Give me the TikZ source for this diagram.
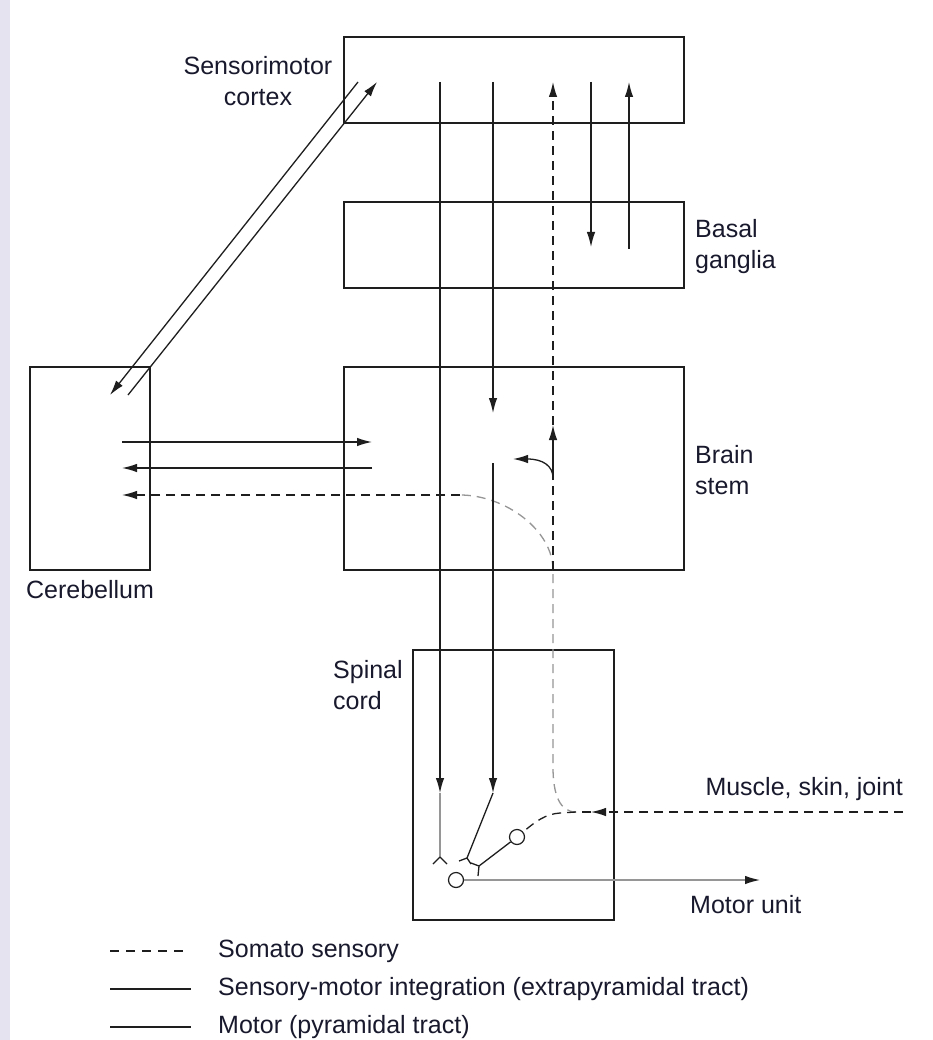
\documentclass[tikz,border=0pt]{standalone}
\usepackage{fontspec}
\setmainfont{Liberation Sans}
\usetikzlibrary{arrows.meta}
\definecolor{lc}{RGB}{30,30,30}
\definecolor{gl}{RGB}{150,150,150}
\definecolor{txt}{RGB}{25,25,45}
\definecolor{band}{RGB}{229,227,240}
\begin{document}
\begin{tikzpicture}[x=1pt,y=-1pt,
  box/.style={draw=lc, line width=1.4pt, inner sep=0pt, outer sep=0pt, anchor=north west},
  lbl/.style={font=\fontsize{25}{31}\selectfont, inner sep=0pt, text=txt},
  wire/.style={draw=lc, line width=1.3pt},
  tip/.style={-{Latex[length=15pt,width=8.5pt,color=lc]}},
  arr/.style={wire, tip},
  dsh/.style={dash pattern=on 9pt off 6pt},
  grey/.style={draw=gl},
  cell/.style={circle, draw=lc, line width=1.2pt, fill=white, minimum size=15pt, inner sep=0pt}
]
\useasboundingbox (0,0) rectangle (932,1040);
\fill[white] (0,0) rectangle (932,1040);
\fill[band] (0,0) rectangle (10,1040);

% boxes
\node[box, minimum width=340pt, minimum height=86pt] (smc) at (344,37) {};
\node[box, minimum width=340pt, minimum height=86pt] (bg) at (344,202) {};
\node[box, minimum width=340pt, minimum height=203pt] (bs) at (344,367) {};
\node[box, minimum width=120pt, minimum height=203pt] (cb) at (30,367) {};
\node[box, minimum width=201pt, minimum height=270pt] (sc) at (413,650) {};

% labels
\node[lbl, align=center] (lsmc) at (258,81) {Sensorimotor\\cortex};
\node[lbl, align=left, anchor=west] (lbg) at (695,247) {Basal\\ganglia};
\node[lbl, align=left, anchor=west] (lbs) at (695,470) {Brain\\stem};
\node[lbl] (lcb) at (90,590) {Cerebellum};
\node[lbl, align=left, anchor=west] (lsc) at (333,685) {Spinal\\cord};
\node[lbl, anchor=east] (lmsj) at (903,789) {Muscle, skin, joint};
\node[lbl, anchor=west] (lmu) at (690,905) {Motor unit};

% coordinates
\coordinate (a1t) at (440,82);  \coordinate (a1b) at (440,793); \coordinate (a1e) at (440,857);
\coordinate (a2t) at (493,82);  \coordinate (a2m) at (493,413);
\coordinate (a2r) at (493,463); \coordinate (a2b) at (493,793); \coordinate (e2) at (467,858);
\coordinate (dTop) at (553,82); \coordinate (dMid) at (553,425); \coordinate (dBr) at (553,478);
\coordinate (dBot) at (553,570); \coordinate (dLow) at (553,767);
\coordinate (junc) at (576,812); \coordinate (inTip) at (591,812); \coordinate (inStart) at (903,812);
\coordinate (curTip) at (513,459);
\coordinate (b1t) at (591,82); \coordinate (b1b) at (591,247);
\coordinate (b2b) at (629,249); \coordinate (b2t) at (629,82);
\coordinate (d1s) at (358,82); \coordinate (d1e) at (110,395);
\coordinate (d2s) at (128,395); \coordinate (d2e) at (377,82);
\coordinate (h1s) at (122,442); \coordinate (h1e) at (372,442);
\coordinate (h2s) at (372,468); \coordinate (h2e) at (122,468);
\coordinate (h3s) at (460,495); \coordinate (h3e) at (122,495);
\coordinate (t3) at (479,866);
\coordinate (mTip) at (760,880);

% neurons
\node[cell] (n1) at (517,837) {};
\node[cell] (n2) at (456,880) {};

% cortex - cerebellum
\draw[arr] (d1s) -- (d1e);
\draw[arr] (d2s) -- (d2e);
% cerebellum - brain stem
\draw[arr] (h1s) -- (h1e);
\draw[arr] (h2s) -- (h2e);
\draw[arr, dsh] (h3s) -- (h3e);
\draw[wire, grey, dsh] (dBot) .. controls (553,530) and (505,495) .. (h3s);

% basal ganglia loop
\draw[arr] (b1t) -- (b1b);
\draw[arr] (b2b) -- (b2t);

% pyramidal / extrapyramidal tracts
\draw[arr] (a1t) -- (a1b);
\draw[wire, grey] (a1b) -- (a1e);
\draw[wire] (a1e) -- ++(-7,7) (a1e) -- ++(7,7);
\draw[arr] (a2t) -- (a2m);
\draw[arr] (a2r) -- (a2b);
\draw[wire] (a2b) -- (e2);
\draw[wire] (e2) -- ++(-8,3) (e2) -- ++(4,6);
\draw[wire] (n1) -- (t3);
\draw[wire] (t3) -- ++(-8,-3) (t3) -- ++(-1,10);
\draw[wire, grey, tip] (n2) -- (mTip);

% somatosensory path
\draw[arr, dsh] (inStart) -- (inTip);
\draw[wire, dsh] (inTip) -- (junc);
\draw[wire, grey, dsh] (junc) .. controls (560,812) and (553,795) .. (dLow) -- (dBot);
\draw[wire, dsh] (junc) -- (560,813) .. controls (545,814) and (535,822) .. (n1);
\draw[wire, dsh] (dBot) -- (dBr);
\draw[arr] (dBr) -- (dMid);
\draw[arr, dsh] (dMid) -- (dTop);
\draw[arr] (dBr) .. controls (553,466) and (543,459) .. (curTip);

% legend
\coordinate (g1a) at (110,951); \coordinate (g1b) at (185,951);
\coordinate (g2a) at (110,989); \coordinate (g2b) at (191,989);
\coordinate (g3a) at (110,1027); \coordinate (g3b) at (191,1027);
\draw[wire, dash pattern=on 9pt off 7pt] (g1a) -- (g1b);
\draw[wire] (g2a) -- (g2b);
\draw[wire] (g3a) -- (g3b);
\node[lbl, anchor=west] (k1) at (218,951) {Somato sensory};
\node[lbl, anchor=west] (k2) at (218,989) {Sensory-motor integration (extrapyramidal tract)};
\node[lbl, anchor=west] (k3) at (218,1027) {Motor (pyramidal tract)};
\end{tikzpicture}
\end{document}
